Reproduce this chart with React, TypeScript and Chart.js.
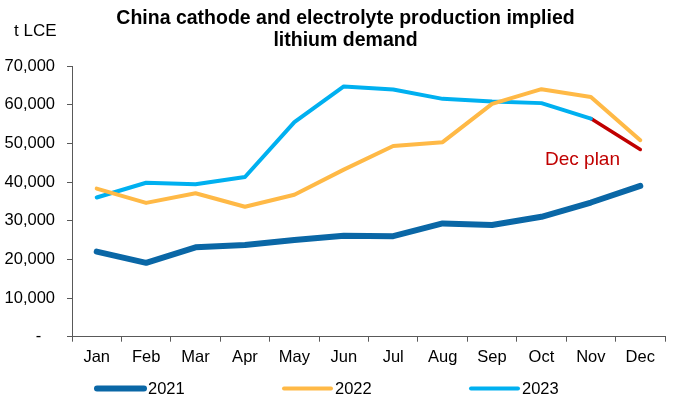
import React, { useEffect, useRef } from 'react';
import { Chart, registerables } from 'chart.js';

Chart.register(...registerables);

const months = ['Jan', 'Feb', 'Mar', 'Apr', 'May', 'Jun', 'Jul', 'Aug', 'Sep', 'Oct', 'Nov', 'Dec'];
const y2021 = [22000, 19100, 23100, 23700, 25000, 26100, 26000, 29300, 28900, 31000, 34700, 39000];
const y2022 = [38300, 34600, 37100, 33600, 36700, 43200, 49300, 50300, 60200, 64000, 62000, 50800];
const y2023 = [36000, 39800, 39400, 41300, 55500, 64700, 63900, 61500, 60800, 60400, 56400, null];
const decPlan = [null, null, null, null, null, null, null, null, null, null, 56400, 48400];
const yMax = 70000;
const yStep = 10000;

const titleLines = ['China cathode and electrolyte production implied', 'lithium demand'];
const yUnit = 't LCE';
const planLabel = 'Dec plan';

const FONT = "'Liberation Sans', Arial, sans-serif";

const overlayPlugin = {
  id: 'overlay',
  afterDraw(chart: any) {
    const ctx = chart.ctx;
    const area = chart.chartArea;
    ctx.save();
    // title
    ctx.fillStyle = '#000';
    ctx.font = `bold 19.5px ${FONT}`;
    ctx.textAlign = 'center';
    ctx.textBaseline = 'alphabetic';
    ctx.fillText(titleLines[0], 345.5, 24);
    ctx.fillText(titleLines[1], 345.5, 46);
    // unit
    ctx.font = `17px ${FONT}`;
    ctx.textAlign = 'left';
    ctx.fillText(yUnit, 14, 36);
    // dec plan label
    ctx.fillStyle = '#C00000';
    ctx.font = `19px ${FONT}`;
    ctx.fillText(planLabel, 545, 165);
    // legend
    const items = chart.data.datasets.filter((d: any) => !d.hideLegend);
    let x = area.left + 23;
    const y = 388.5;
    items.forEach((d: any) => {
      ctx.strokeStyle = d.borderColor;
      ctx.lineWidth = d.legendWidth;
      ctx.lineCap = 'round';
      ctx.beginPath();
      ctx.moveTo(x + 2, y);
      ctx.lineTo(x + 49, y);
      ctx.stroke();
      ctx.fillStyle = '#000';
      ctx.font = `16.5px ${FONT}`;
      ctx.textAlign = 'left';
      ctx.textBaseline = 'middle';
      ctx.fillText(d.label, x + 53, y + 1);
      x += 187;
    });
    ctx.restore();
  },
};

export default function App() {
  const ref = useRef<HTMLCanvasElement | null>(null);
  useEffect(() => {
    document.body.style.margin = '0';
    const canvas = ref.current;
    if (!canvas) return;
    const chart = new Chart(canvas, {
      type: 'line',
      data: {
        labels: months,
        datasets: [
          {
            label: '2021',
            data: y2021,
            borderColor: '#0A67A6',
            backgroundColor: '#0A67A6',
            borderWidth: 6,
            legendWidth: 6,
            pointRadius: 0,
            borderCapStyle: 'round',
            borderJoinStyle: 'round',
            tension: 0,
          } as any,
          {
            label: '2022',
            data: y2022,
            borderColor: '#FFB946',
            backgroundColor: '#FFB946',
            borderWidth: 4,
            legendWidth: 4,
            pointRadius: 0,
            borderCapStyle: 'round',
            borderJoinStyle: 'round',
            tension: 0,
          } as any,
          {
            label: '2023',
            data: y2023,
            borderColor: '#00B0F0',
            backgroundColor: '#00B0F0',
            borderWidth: 4,
            legendWidth: 4,
            pointRadius: 0,
            borderCapStyle: 'round',
            borderJoinStyle: 'round',
            tension: 0,
          } as any,
          {
            label: planLabel,
            data: decPlan,
            borderColor: '#C00000',
            backgroundColor: '#C00000',
            borderWidth: 3.5,
            hideLegend: true,
            pointRadius: 0,
            borderCapStyle: 'round',
            borderJoinStyle: 'round',
            tension: 0,
          } as any,
        ],
      },
      options: {
        responsive: false,
        animation: false,
        devicePixelRatio: 1,
        layout: { padding: { top: 66, right: 11, left: 0, bottom: 0 } },
        plugins: {
          legend: { display: false },
          title: { display: false },
          tooltip: { enabled: false },
        },
        scales: {
          x: {
            type: 'category',
            offset: true,
            grid: {
              offset: true,
              drawOnChartArea: false,
              drawTicks: true,
              tickLength: 5,
              color: '#595959',
            },
            border: { display: true, color: '#595959', width: 1 },
            ticks: {
              color: '#000',
              font: { size: 16.5, family: FONT },
              padding: 6,
              maxRotation: 0,
              autoSkip: false,
            },
            afterFit(scale: any) {
              scale.height = 399 - 336.7;
            },
          },
          y: {
            min: 0,
            max: yMax,
            grid: {
              drawOnChartArea: false,
              drawTicks: true,
              tickLength: 5,
              color: '#595959',
            },
            border: { display: true, color: '#595959', width: 1 },
            ticks: {
              stepSize: yStep,
              color: '#000',
              font: { size: 16.5, family: FONT },
              padding: 12,
              callback: (v: any) => (Number(v) === 0 ? '-   ' : Number(v).toLocaleString('en-US')),
            },
            afterFit(scale: any) {
              scale.width = 72;
            },
          },
        },
      } as any,
      plugins: [overlayPlugin],
    });
    return () => chart.destroy();
  }, []);
  return (
    <div style={{ width: 676, height: 399 }}>
      <canvas ref={ref} width={676} height={399} style={{ display: 'block' }} />
    </div>
  );
}
